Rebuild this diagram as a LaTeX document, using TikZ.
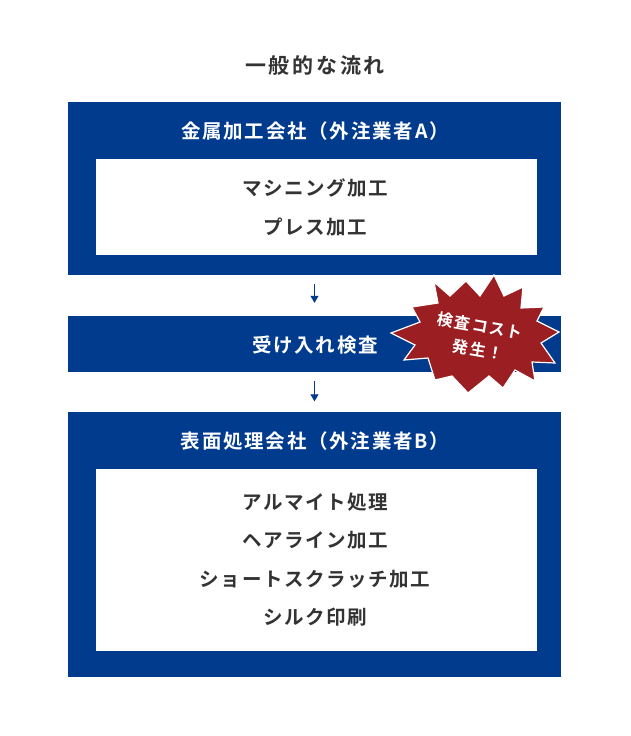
\documentclass[tikz,border=0pt]{standalone}
\usepackage{fontspec}
\setmainfont{Noto Sans CJK JP}[BoldFont={* Bold}]
\usepackage{xcolor}
\usetikzlibrary{arrows.meta}
\definecolor{navy}{HTML}{003B8E}
\definecolor{ink}{HTML}{333333}
\definecolor{burst}{HTML}{9B1E22}
\tikzset{
  band/.style={fill=navy, draw=none, minimum width=493pt, inner sep=0pt},
  panel/.style={fill=white, draw=none, minimum width=441pt, inner sep=0pt},
  head/.style={text=white, font=\fontsize{19.5}{21}\selectfont\bfseries\addfontfeature{LetterSpace=9}},
  item/.style={text=ink, font=\fontsize{19.5}{21}\selectfont\bfseries\addfontfeature{LetterSpace=8}},
  flow/.style={draw=navy, line width=1pt, -{Triangle[width=8pt,length=7pt]}},
  burstlab/.style={text=white, font=\fontsize{16}{18}\selectfont\bfseries\addfontfeature{LetterSpace=9}, rotate=-10}
}
\begin{document}
\begin{tikzpicture}[x=1pt,y=-1pt]
  \useasboundingbox[fill=white] (0,0) rectangle (630,736);

  \node[text=ink, font=\fontsize{21}{23}\selectfont\bfseries\addfontfeature{LetterSpace=13}] (flowtitle) at (315,66) {一般的な流れ};

  % metal works (A)
  \node[band, minimum height=173pt] (boxA) at (314.5,188.5) {};
  \node[panel, minimum height=96pt] (panelA) at (316.5,207) {};
  \node[head] (headA) at (315,131) {金属加工会社（外注業者A）};
  \node[item] (machining) at (315,188) {マシニング加工};
  \node[item] (press) at (315,227) {プレス加工};

  % incoming inspection
  \node[band, minimum height=56pt] (check) at (314.5,344) {};
  \node[head] (checklab) at (315,345) {受け入れ検査};

  % surface finishing (B)
  \node[band, minimum height=265pt] (boxB) at (314.5,544) {};
  \node[panel, minimum height=182pt] (panelB) at (316.5,560) {};
  \node[head] (headB) at (315,441) {表面処理会社（外注業者B）};
  \node[item] (alumite) at (315,502) {アルマイト処理};
  \node[item] (hairline) at (315,540) {ヘアライン加工};
  \node[item] (scratch) at (315,579) {ショートスクラッチ加工};
  \node[item] (silk) at (315,617) {シルク印刷};

  \draw[flow, shorten <=9pt, shorten >=13pt] (boxA.south) -- (check.north);
  \draw[flow, shorten <=9pt, shorten >=10pt] (check.south) -- (boxB.north);

  % cost burst
  \filldraw[fill=burst, draw=white, line width=1.2pt, line join=miter]
    (391,333) -- (420,322) -- (412,307) -- (438,303) -- (434,282) -- (450,296)
    -- (466,281) -- (480,296) -- (494,275) -- (504,296) -- (523,287) -- (521,308)
    -- (544,307) -- (537,321) -- (559,332) -- (541,343) -- (555,363) -- (532,362)
    -- (535,381) -- (515,370) -- (503,388) -- (489,376) -- (468,393) -- (452,376)
    -- (435,380) -- (428,358) -- (404,360) -- (415,345) -- cycle;
  \node[burstlab] (costA) at (480,326) {検査コスト};
  \node[burstlab] (costB) at (478,350) {発生！};
\end{tikzpicture}
\end{document}
